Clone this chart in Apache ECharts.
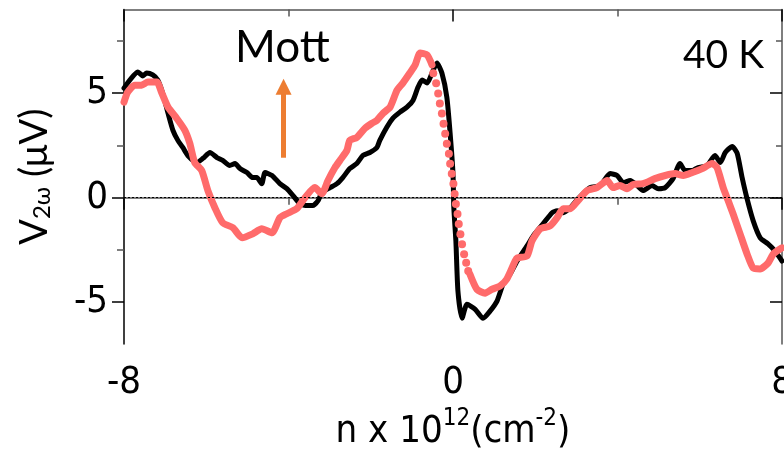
<!DOCTYPE html>
<html>
<head>
<meta charset="utf-8">
<script src="https://cdn.jsdelivr.net/npm/echarts@6/dist/echarts.min.js"></script>
<style>html,body{margin:0;padding:0;background:#fff}#c{width:784px;height:459px}</style>
</head>
<body>
<div id="c"></div>
<script>
// ---- data (n in 1e12 cm^-2, V2w in uV) ----
const blackX = [-8.00,-7.66,-7.54,-7.45,-7.30,-7.18,-7.06,-6.93,-6.81,-6.69,-6.57,-6.45,-6.23,-6.08,-5.91,-5.74,-5.60,-5.43,-5.30,-5.18,-5.01,-4.87,-4.77,-4.65,-4.57,-4.40,-4.21,-4.04,-3.89,-3.72,-3.55,-3.41,-3.28,-3.19,-2.99,-2.82,-2.68,-2.51,-2.34,-2.19,-2.02,-1.85,-1.78,-1.61,-1.46,-1.29,-1.12,-0.97,-0.85,-0.75,-0.63,-0.51,-0.39,-0.27,-0.15,-0.07,0.00,0.02,0.07,0.12,0.22,0.34,0.54,0.73,0.90,1.07,1.22,1.39,1.56,1.80,1.95,2.19,2.41,2.53,2.68,2.85,3.04,3.33,3.58,3.82,3.99,4.14,4.31,4.48,4.62,4.84,4.99,5.16,5.35,5.52,5.64,5.82,5.96,6.18,6.37,6.50,6.62,6.79,6.91,7.03,7.15,7.30,7.47,7.66,7.83,8.00];
const blackY = [5.24,6.01,5.82,5.96,5.87,5.63,5.00,4.04,3.22,2.74,2.40,2.02,1.68,1.88,2.16,1.92,1.78,1.54,1.63,1.39,1.20,0.96,0.96,0.67,1.20,1.06,0.67,0.43,0.10,-0.29,-0.38,-0.38,-0.14,0.24,0.48,0.67,0.96,1.39,1.63,2.02,2.16,2.40,2.74,3.37,3.80,4.09,4.33,4.66,5.29,5.63,5.48,5.96,6.44,5.96,4.81,3.08,1.15,-0.48,-2.07,-4.47,-5.77,-5.10,-5.34,-5.77,-5.43,-4.95,-4.13,-3.65,-3.03,-2.31,-1.83,-1.25,-0.72,-0.63,-0.72,-0.48,-0.05,0.48,0.58,1.15,1.06,0.72,0.82,0.58,0.34,0.58,0.43,0.48,0.91,1.63,1.30,1.30,1.44,1.54,2.02,1.68,2.16,2.45,2.12,0.96,-0.05,-1.11,-1.92,-2.21,-2.55,-3.03];

const redLeftX = [-8.00,-7.91,-7.74,-7.57,-7.42,-7.20,-7.08,-6.93,-6.72,-6.52,-6.40,-6.28,-6.11,-5.96,-5.79,-5.60,-5.35,-5.13,-4.87,-4.65,-4.40,-4.21,-4.04,-3.80,-3.60,-3.36,-3.19,-3.04,-2.87,-2.75,-2.58,-2.51,-2.34,-2.14,-1.97,-1.85,-1.70,-1.53,-1.36,-1.22,-1.05,-0.92,-0.80,-0.63,-0.51];
const redLeftY = [4.57,5.05,5.38,5.38,5.53,5.53,5.00,4.33,3.80,3.22,2.60,1.68,1.30,0.34,-0.48,-1.20,-1.44,-1.92,-1.73,-1.49,-1.68,-0.96,-0.77,-0.53,0.00,0.48,0.19,0.82,1.44,1.78,2.26,2.74,2.88,3.32,3.56,3.70,4.04,4.33,5.14,5.48,5.96,6.35,6.92,6.83,6.35];

const redDotX = [-0.48,-0.41,-0.36,-0.32,-0.27,-0.23,-0.19,-0.15,-0.10,-0.07,-0.03,0.01,0.04,0.07,0.11,0.14,0.18,0.22,0.27,0.32,0.37];
const redDotY = [5.95,5.47,4.98,4.50,4.02,3.54,3.06,2.58,2.10,1.62,1.14,0.66,0.18,-0.30,-0.78,-1.26,-1.75,-2.23,-2.71,-3.11,-3.51];

const redRightX = [0.41,0.58,0.78,0.95,1.14,1.31,1.51,1.56,1.80,1.92,2.12,2.36,2.53,2.68,2.85,3.04,3.26,3.50,3.75,3.89,4.06,4.23,4.38,4.62,4.91,5.16,5.40,5.60,5.82,6.06,6.30,6.42,6.57,6.69,6.81,6.98,7.15,7.30,7.47,7.66,7.79,8.00];
const redRightY = [-3.65,-4.38,-4.57,-4.38,-4.23,-3.89,-3.03,-2.88,-2.79,-2.07,-1.49,-1.35,-0.96,-0.53,-0.53,-0.14,0.34,0.48,0.82,0.48,0.58,0.43,0.63,0.67,0.91,1.06,1.15,1.06,1.20,1.39,1.63,1.44,0.48,-0.14,-0.77,-1.73,-2.69,-3.37,-3.41,-3.13,-2.69,-2.40];

const xTicks = [-8, 0, 8];
const yMajor = [-5, 0, 5];
const yMinor = [-2.5, 2.5, 7.5];
const arrowX = [-4.12, -4.12];
const arrowY = [1.91, 5.30];

const zip = (xs, ys) => xs.map((x, i) => [x, ys[i]]);

const tickFont = "'DejaVu Sans Condensed','Liberation Sans Narrow','Arial Narrow','Liberation Sans',sans-serif";
const textFont = "Lato,'Open Sans',sans-serif";
const frameGrey = '#555';

const chart = echarts.init(document.getElementById('c'), null, {renderer: 'canvas'});
chart.setOption({
  animation: false,
  backgroundColor: '#fff',
  grid: {left: 124, right: 2, top: 9.5, bottom: 115, containLabel: false, outerBoundsMode: 'none'},
  xAxis: [
    {
      type: 'value', min: -8, max: 8, interval: 8, position: 'bottom',
      axisLine: {show: true, lineStyle: {color: frameGrey, width: 1.5}},
      axisTick: {show: true, inside: false, length: 12, lineStyle: {color: '#000', width: 1.5}},
      minorTick: {show: true, splitNumber: 2, length: 7, lineStyle: {color: frameGrey, width: 1.5}},
      splitLine: {show: false},
      axisLabel: {margin: 20, fontSize: 38, color: '#000', fontFamily: tickFont,
        customValues: xTicks, showMinLabel: true, showMaxLabel: true, hideOverlap: false},
      name: '{a|n x 10}{sup|12}{a|(cm}{sup|-2}{a|)}',
      nameLocation: 'middle', nameGap: 62,
      nameTextStyle: {
        rich: {
          a: {fontSize: 38, fontFamily: tickFont, color: '#000', verticalAlign: 'bottom', lineHeight: 44},
          sup: {fontSize: 24, fontFamily: tickFont, color: '#000', verticalAlign: 'top', lineHeight: 44}
        }
      }
    },
    {
      type: 'value', min: -8, max: 8, interval: 8, position: 'top',
      axisLine: {show: true, onZero: false, lineStyle: {color: frameGrey, width: 1.5}},
      axisTick: {show: true, inside: true, length: 12, lineStyle: {color: '#000', width: 1.5}},
      minorTick: {show: true, splitNumber: 2, length: 7, lineStyle: {color: frameGrey, width: 1.5}},
      splitLine: {show: false},
      axisLabel: {show: false}
    }
  ],
  yAxis: [
    {
      type: 'value', min: -7, max: 9, position: 'left',
      axisLine: {show: true, onZero: false, lineStyle: {color: '#000', width: 1.5}},
      axisTick: {show: true, inside: false, length: 12, customValues: yMajor, lineStyle: {color: '#000', width: 1.5}},
      splitLine: {show: false},
      axisLabel: {margin: 16, fontSize: 38, color: '#000', fontFamily: tickFont, customValues: yMajor},
      name: '{v|V}{s|2ω}{v| (μV)}',
      nameLocation: 'middle', nameGap: 70, nameRotate: 90,
      nameTextStyle: {
        rich: {
          v: {fontSize: 38, fontFamily: textFont, color: '#000', verticalAlign: 'bottom', lineHeight: 46},
          s: {fontSize: 24, fontFamily: textFont, color: '#000', verticalAlign: 'bottom', lineHeight: 36}
        }
      }
    },
    {
      type: 'value', min: -7, max: 9, position: 'left',
      axisLine: {show: false, onZero: false},
      axisTick: {show: true, inside: false, length: 7, customValues: yMinor, lineStyle: {color: frameGrey, width: 1.5}},
      splitLine: {show: false},
      axisLabel: {show: false}
    },
    {
      type: 'value', min: -7, max: 9, position: 'right',
      axisLine: {show: true, onZero: false, lineStyle: {color: frameGrey, width: 1.5}},
      axisTick: {show: true, inside: true, length: 12, customValues: yMajor, lineStyle: {color: '#000', width: 1.5}},
      splitLine: {show: false},
      axisLabel: {show: false}
    },
    {
      type: 'value', min: -7, max: 9, position: 'right',
      axisLine: {show: false, onZero: false},
      axisTick: {show: true, inside: true, length: 6, customValues: yMinor, lineStyle: {color: frameGrey, width: 1.5}},
      splitLine: {show: false},
      axisLabel: {show: false}
    }
  ],
  graphic: [
    {type: 'text', left: 235, top: 26, style: {text: 'Mott', font: "44px Lato, 'Open Sans', sans-serif", fill: '#000'}},
    {type: 'text', left: 683, top: 36, style: {text: '40 K', font: "39px Lato, 'Open Sans', sans-serif", fill: '#000'}}
  ],
  series: [
    {
      name: 'black', type: 'line', data: zip(blackX, blackY),
      showSymbol: false, smooth: 0.2, z: 2,
      lineStyle: {color: '#000', width: 5, join: 'round', cap: 'round'},
      markLine: {
        silent: true, symbol: ['none', 'none'], label: {show: false},
        lineStyle: {color: '#000', type: [2, 2], width: 1},
        data: [{yAxis: 0}]
      }
    },
    {
      name: 'redLeft', type: 'line', data: zip(redLeftX, redLeftY),
      showSymbol: false, smooth: 0.2, z: 3,
      lineStyle: {color: '#ff6b6b', width: 7, join: 'round', cap: 'round'}
    },
    {
      name: 'redDots', type: 'scatter', data: zip(redDotX, redDotY),
      symbol: 'circle', symbolSize: 8, z: 3,
      itemStyle: {color: '#ff6b6b', opacity: 1}
    },
    {
      name: 'redRight', type: 'line', data: zip(redRightX, redRightY),
      showSymbol: false, smooth: 0.2, z: 3,
      lineStyle: {color: '#ff6b6b', width: 7, join: 'round', cap: 'round'}
    },
    {
      name: 'arrow', type: 'line', data: [], z: 4,
      markLine: {
        silent: true, symbol: ['none', 'triangle'], symbolSize: [16, 16],
        label: {show: false},
        lineStyle: {color: '#ed7d31', type: 'solid', width: 5},
        itemStyle: {color: '#ed7d31'},
        data: [[{coord: [arrowX[0], arrowY[0]]}, {coord: [arrowX[1], arrowY[1]]}]]
      }
    }
  ]
});
</script>
</body>
</html>
